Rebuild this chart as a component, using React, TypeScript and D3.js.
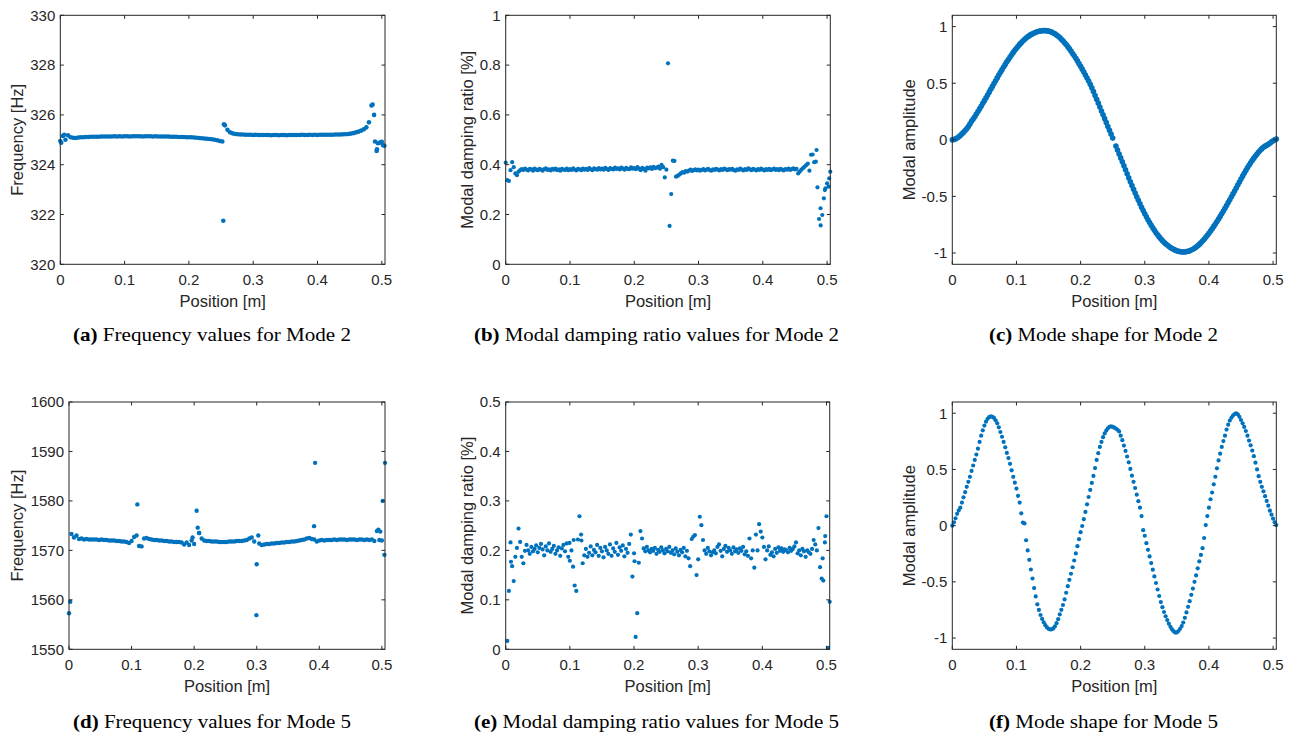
import React from 'react';
import * as d3 from 'd3';

const BLUE = '#0072BD';
const INK = '#262626';
const SANS = 'Liberation Sans, Arial, Helvetica, sans-serif';
const SERIF = 'Liberation Serif, Times New Roman, serif';

// Shared x axis
const X_MAX = 0.505;
const xTickValues = [0, 0.1, 0.2, 0.3, 0.4, 0.5];
const xTickLabels = ['0', '0.1', '0.2', '0.3', '0.4', '0.5'];
const xAxisTitle = 'Position [m]';

type Pt = [number, number];

// ---------- (a) Frequency values, Mode 2 (grid step 0.004 m) ----------
const freqMode2Step = 0.004;
const freqMode2 = [
  324.95, 325.15, 325.0, 325.18, 325.1, 325.08, 325.07, 325.09, 325.1, 325.1,
  325.11, 325.11, 325.12, 325.12, 325.12, 325.12, 325.13, 325.13, 325.13, 325.13,
  325.13, 325.14, 325.13, 325.14, 325.13, 325.14, 325.14, 325.13, 325.14, 325.14,
  325.14, 325.14, 325.13, 325.14, 325.14, 325.14, 325.13, 325.14, 325.13, 325.13,
  325.13, 325.13, 325.13, 325.12, 325.12, 325.12, 325.11, 325.11, 325.11, 325.1,
  325.1, 325.1, 325.09, 325.08, 325.07, 325.06, 325.05, 325.04, 325.03, 325.02,
  325.0, 324.98, 324.95, 324.93, 325.58, 325.4, 325.3, 325.26, 325.23, 325.22,
  325.21, 325.21, 325.2, 325.2, 325.2, 325.19, 325.2, 325.19, 325.19, 325.19,
  325.19, 325.19, 325.18, 325.19, 325.19, 325.18, 325.19, 325.19, 325.18, 325.19,
  325.19, 325.19, 325.19, 325.19, 325.2, 325.19, 325.19, 325.2, 325.19, 325.2,
  325.19, 325.2, 325.2, 325.2, 325.2, 325.2, 325.2, 325.21, 325.21, 325.21,
  325.22, 325.22, 325.23, 325.25, 325.27, 325.3, 325.33, 325.37, 325.42, 325.5,
  325.7, 326.38, 326.0, 324.55, 324.88, 324.92, 324.76,
];
const freqMode2Extra: Pt[] = [
  [0.0015, 324.88], [0.006, 325.2], [0.2535, 321.75], [0.2545, 325.62],
  [0.4858, 326.42], [0.4895, 324.93], [0.4925, 324.62], [0.494, 324.86],
  [0.4985, 324.9], [0.502, 324.78],
];
const freqMode2Ticks = [320, 322, 324, 326, 328, 330];
const freqMode2TickLabels = ['320', '322', '324', '326', '328', '330'];

// ---------- (b) Modal damping ratio, Mode 2 (grid step 0.0025 m) ----------
const dampMode2Step = 0.0025;
const dampMode2 = [
  0.408, 0.338, 0.335, 0.378, 0.41, 0.39, 0.365, 0.358, 0.372, 0.378,
  0.382, 0.379, 0.384, 0.38, 0.377, 0.383, 0.381, 0.376, 0.384, 0.38,
  0.378, 0.383, 0.38, 0.376, 0.382, 0.385, 0.379, 0.381, 0.377, 0.383,
  0.38, 0.384, 0.378, 0.381, 0.376, 0.383, 0.38, 0.379, 0.384, 0.378,
  0.382, 0.379, 0.385, 0.38, 0.377, 0.383, 0.381, 0.378, 0.384, 0.38,
  0.383, 0.379, 0.386, 0.381, 0.378, 0.385, 0.382, 0.38, 0.386, 0.381,
  0.384, 0.38, 0.387, 0.382, 0.379, 0.386, 0.383, 0.381, 0.388, 0.383,
  0.385, 0.381, 0.388, 0.384, 0.38, 0.387, 0.383, 0.382, 0.389, 0.384,
  0.386, 0.382, 0.39, 0.384, 0.378, 0.387, 0.383, 0.376, 0.388, 0.385,
  0.389, 0.383, 0.391, 0.386, 0.388, 0.392, 0.384, 0.399, 0.39, 0.349,
  0.38, 0.807, 0.154, 0.282, 0.416, 0.415, 0.352, 0.355, 0.36, 0.365,
  0.37, 0.368, 0.374, 0.372, 0.376, 0.38, 0.375, 0.378, 0.381, 0.377,
  0.38, 0.376, 0.379, 0.382, 0.377, 0.38, 0.383, 0.378, 0.376, 0.381,
  0.379, 0.383, 0.38, 0.377, 0.382, 0.379, 0.384, 0.381, 0.378, 0.382,
  0.38, 0.383, 0.378, 0.376, 0.381, 0.379, 0.384, 0.38, 0.377, 0.382,
  0.379, 0.385, 0.381, 0.378, 0.383, 0.38, 0.377, 0.382, 0.379, 0.384,
  0.38, 0.377, 0.382, 0.379, 0.383, 0.378, 0.381, 0.384, 0.379, 0.382,
  0.378, 0.383, 0.38, 0.377, 0.382, 0.38, 0.384, 0.379, 0.382, 0.385,
  0.381, 0.383, 0.365, 0.372, 0.38, 0.386, 0.392, 0.398, 0.404, 0.376,
  0.44, 0.441, 0.41, 0.412, 0.309, 0.182, 0.156, 0.198, 0.265, 0.305,
  0.325, 0.312, 0.372,
];
const dampMode2Extra: Pt[] = [
  [0.4836, 0.459], [0.4898, 0.225], [0.4966, 0.298], [0.5033, 0.345],
];
const dampMode2Ticks = [0, 0.2, 0.4, 0.6, 0.8, 1];
const dampMode2TickLabels = ['0', '0.2', '0.4', '0.6', '0.8', '1'];

// ---------- (c) Mode shape, Mode 2 (grid step 0.0025 m) ----------
const shapeMode2Step = 0.0025;
const shapeMode2: (number | null)[] = [
  0, 0.002, 0.008, 0.015, 0.026, 0.037, 0.052, 0.067, 0.082, 0.097,
  0.118, 0.14, 0.163, 0.184, 0.204, 0.227, 0.25, 0.273, 0.297, 0.322,
  0.346, 0.37, 0.395, 0.421, 0.446, 0.472, 0.497, 0.522, 0.547, 0.572,
  0.596, 0.62, 0.643, 0.666, 0.689, 0.71, 0.731, 0.752, 0.772, 0.791,
  0.809, 0.827, 0.843, 0.858, 0.873, 0.886, 0.899, 0.91, 0.92, 0.929,
  0.937, 0.944, 0.95, 0.955, 0.959, 0.962, 0.964, 0.965, 0.965, 0.963,
  0.96, 0.956, 0.951, 0.944, 0.936, 0.926, 0.915, 0.903, 0.889, 0.874,
  0.858, 0.841, 0.823, 0.804, 0.784, 0.763, 0.742, 0.72, 0.697, 0.673,
  0.649, 0.624, 0.599, 0.573, 0.546, 0.519, 0.491, 0.459, 0.426, 0.392,
  0.358, 0.324, 0.29, 0.255, 0.221, 0.187, 0.152, 0.118, 0.084, 0.05,
  0.015, null, -0.055, -0.09, -0.125, -0.16, -0.195, -0.23, -0.265, -0.3,
  -0.335, -0.37, -0.404, -0.438, -0.471, -0.503, -0.535, -0.566, -0.596, -0.625,
  -0.653, -0.68, -0.706, -0.731, -0.755, -0.778, -0.8, -0.821, -0.84, -0.858,
  -0.875, -0.891, -0.905, -0.918, -0.93, -0.941, -0.951, -0.96, -0.968, -0.975,
  -0.981, -0.985, -0.988, -0.99, -0.991, -0.99, -0.988, -0.985, -0.98, -0.974,
  -0.967, -0.958, -0.948, -0.937, -0.924, -0.91, -0.895, -0.879, -0.862, -0.844,
  -0.825, -0.806, -0.786, -0.765, -0.744, -0.722, -0.7, -0.677, -0.654, -0.63,
  -0.605, -0.58, -0.555, -0.53, -0.504, -0.478, -0.452, -0.426, -0.4, -0.373,
  -0.347, -0.321, -0.296, -0.272, -0.248, -0.225, -0.203, -0.182, -0.162, -0.143,
  -0.125, -0.108, -0.092, -0.078, -0.066, -0.056, -0.048, -0.04, -0.03, -0.018,
  -0.008, 0, 0.006,
];
const shapeTicks = [-1, -0.5, 0, 0.5, 1];
const shapeTickLabels = ['-1', '-0.5', '0', '0.5', '1'];

// ---------- (d) Frequency values, Mode 5 (grid step 0.004 m) ----------
const freqMode5Step = 0.004;
const freqMode5 = [
  1557.3, 1573.3, 1572.6, 1573.0, 1572.3, 1572.4, 1572.2, 1572.3, 1572.2, 1572.2,
  1572.2, 1572.2, 1572.1, 1572.2, 1572.1, 1572.1, 1572.0, 1572.0, 1572.0, 1571.9,
  1571.9, 1571.8, 1571.8, 1571.7, 1571.5, 1571.9, 1572.7, 1573.0, 1570.9, 1570.8,
  1572.4, 1572.5, 1572.3, 1572.2, 1572.1, 1572.1, 1572.0, 1572.0, 1571.9, 1571.9,
  1571.8, 1571.8, 1571.7, 1571.7, 1571.7, 1571.6, 1571.2, 1571.6, 1571.1, 1572.0,
  1571.3, 1578.0, 1573.5, 1572.4, 1572.0, 1571.9, 1571.9, 1571.8, 1571.8, 1571.8,
  1571.7, 1571.7, 1571.7, 1571.7, 1571.8, 1571.8, 1571.8, 1571.9, 1571.9, 1571.9,
  1572.0, 1572.1, 1572.4, 1572.6, 1571.8, 1567.2, 1571.4, 1571.1, 1571.2, 1571.3,
  1571.3, 1571.4, 1571.4, 1571.5, 1571.5, 1571.6, 1571.6, 1571.7, 1571.7, 1571.8,
  1571.8, 1571.9, 1572.0, 1572.1, 1572.2, 1572.4, 1572.5, 1572.3, 1572.2, 1571.8,
  1572.0, 1572.1, 1572.0, 1572.1, 1572.1, 1572.1, 1572.2, 1572.1, 1572.2, 1572.2,
  1572.2, 1572.1, 1572.2, 1572.2, 1572.2, 1572.1, 1572.2, 1572.2, 1572.1, 1572.2,
  1572.1, 1572.2, 1571.9, 1573.9, 1572.1, 1572.0, 1569.1,
];
const freqMode5Extra: Pt[] = [
  [0.002, 1559.6], [0.1092, 1579.3], [0.1975, 1572.6], [0.2057, 1574.6],
  [0.2078, 1573.5], [0.2995, 1556.9], [0.3025, 1573.0], [0.3916, 1574.9],
  [0.3933, 1587.7], [0.4944, 1574.2], [0.4975, 1573.8], [0.5013, 1580.0],
  [0.505, 1587.7],
];
const freqMode5Ticks = [1550, 1560, 1570, 1580, 1590, 1600];
const freqMode5TickLabels = ['1550', '1560', '1570', '1580', '1590', '1600'];

// ---------- (e) Modal damping ratio, Mode 5 (grid step 0.0025 m) ----------
const dampMode5Step = 0.0025;
const dampMode5: (number | null)[] = [
  null, 0.017, 0.118, 0.216, 0.168, 0.138, 0.187, 0.205, 0.244, 0.217,
  0.187, 0.174, 0.199, 0.211, 0.2, 0.193, 0.207, 0.198, 0.203, 0.21,
  0.196, 0.205, 0.213, 0.202, 0.19, 0.208, 0.2, 0.214, 0.197, 0.203,
  0.209, 0.193, 0.2, 0.206, 0.189, 0.204, 0.211, 0.198, 0.214, 0.187,
  0.179, 0.2, 0.167, 0.129, 0.118, 0.222, 0.269, 0.232, 0.174, 0.19,
  0.203, 0.187, 0.195, 0.208, 0.19, 0.201, 0.196, 0.211, 0.189, 0.205,
  0.198, 0.186, 0.207, 0.2, 0.193, 0.212, 0.189, 0.204, 0.197, 0.215,
  0.191, 0.206, 0.199, 0.21, 0.188, 0.203, 0.195, 0.213, 0.232, 0.147,
  0.194, 0.025, 0.073, 0.175, 0.239, 0.224, 0.204, 0.198, 0.207, 0.2,
  0.196, 0.203, 0.199, 0.205, 0.193, 0.201, 0.197, 0.206, 0.2, 0.194,
  0.203, 0.198, 0.207, 0.195, 0.2, 0.192, 0.204, 0.197, 0.19, 0.201,
  0.196, 0.205, 0.188, 0.199, 0.184, 0.168, 0.223, 0.228, 0.231, 0.15,
  0.182, 0.268, 0.251, 0.221, 0.2, 0.193, 0.205, 0.198, 0.19, 0.196,
  0.2, 0.194, 0.207, 0.212, 0.199, 0.188, 0.203, 0.209, 0.197, 0.205,
  0.2, 0.193, 0.206, 0.198, 0.202, 0.195, 0.204, 0.199, 0.207, 0.192,
  0.198, 0.189, 0.224, 0.184, 0.2, 0.165, 0.232, 0.2, 0.253, 0.238,
  0.226, 0.207, 0.182, 0.2, 0.208, 0.191, 0.196, 0.188, 0.203, 0.195,
  0.206, 0.199, 0.204, 0.197, 0.202, 0.2, 0.196, 0.205, 0.199, 0.203,
  0.208, 0.216, 0.194, 0.2, 0.19, 0.203, 0.198, 0.187, 0.2, 0.196,
  0.193, 0.203, 0.221, 0.212, 0.2, 0.245, 0.166, 0.143, 0.139, 0.216,
  0.269, 0.003, 0.096,
];
const dampMode5Extra: Pt[] = [
  [0.0082, 0.177], [0.0995, 0.215], [0.106, 0.221], [0.118, 0.22],
  [0.2008, 0.178], [0.494, 0.184], [0.498, 0.229],
];
const dampMode5Ticks = [0, 0.1, 0.2, 0.3, 0.4, 0.5];
const dampMode5TickLabels = ['0', '0.1', '0.2', '0.3', '0.4', '0.5'];

// ---------- (f) Mode shape, Mode 5 (grid step 0.0025 m) ----------
const shapeMode5Step = 0.0025;
const shapeMode5 = [
  0, 0.03, 0.065, 0.105, 0.135, 0.16, 0.205, 0.252, 0.298, 0.345,
  0.39, 0.434, 0.487, 0.535, 0.585, 0.632, 0.685, 0.745, 0.8, 0.848,
  0.89, 0.925, 0.95, 0.966, 0.972, 0.968, 0.958, 0.937, 0.91, 0.875,
  0.833, 0.791, 0.745, 0.697, 0.647, 0.601, 0.55, 0.492, 0.434, 0.382,
  0.33, 0.265, 0.205, 0.11, 0.027, 0.02, -0.13, -0.22, -0.304, -0.39,
  -0.47, -0.555, -0.63, -0.7, -0.75, -0.795, -0.83, -0.86, -0.885, -0.905,
  -0.918, -0.923, -0.922, -0.914, -0.895, -0.868, -0.832, -0.79, -0.749, -0.706,
  -0.656, -0.597, -0.538, -0.482, -0.428, -0.37, -0.31, -0.247, -0.183, -0.12,
  -0.058, -0.003, 0.058, 0.122, 0.19, 0.255, 0.318, 0.38, 0.442, 0.512,
  0.585, 0.645, 0.7, 0.745, 0.787, 0.82, 0.846, 0.866, 0.88, 0.883,
  0.878, 0.872, 0.864, 0.853, 0.838, 0.8, 0.76, 0.712, 0.665, 0.615,
  0.563, 0.505, 0.445, 0.39, 0.335, 0.276, 0.218, 0.16, 0.085, -0.04,
  -0.09, -0.156, -0.215, -0.274, -0.333, -0.392, -0.452, -0.51, -0.568, -0.626,
  -0.68, -0.725, -0.768, -0.806, -0.84, -0.872, -0.9, -0.922, -0.94, -0.951,
  -0.95, -0.937, -0.918, -0.893, -0.862, -0.82, -0.772, -0.722, -0.672, -0.615,
  -0.56, -0.5, -0.443, -0.38, -0.318, -0.26, -0.2, -0.11, 0.005, 0.085,
  0.16, 0.235, 0.295, 0.368, 0.435, 0.51, 0.58, 0.64, 0.7, 0.752,
  0.8, 0.855, 0.898, 0.935, 0.96, 0.979, 0.993, 1, 0.99, 0.968,
  0.94, 0.91, 0.878, 0.842, 0.8, 0.757, 0.715, 0.668, 0.618, 0.56,
  0.5, 0.44, 0.39, 0.345, 0.305, 0.262, 0.22, 0.178, 0.133, 0.098,
  0.062, 0.03, 0.005,
];

interface PanelProps {
  left: number; top: number; right: number; bottom: number;
  yDomain: [number, number];
  yTicks: number[]; yTickLabels: string[];
  yTitle: string; yTitleX: number;
  values: (number | null)[]; step: number; extra?: Pt[];
  r: number;
  letter: string; caption: string; captionX: number; captionY: number; captionW: number;
}

function Panel(p: PanelProps) {
  const x = d3.scaleLinear().domain([0, X_MAX]).range([p.left, p.right]);
  const y = d3.scaleLinear().domain(p.yDomain).range([p.bottom, p.top]);
  const pts: Pt[] = [];
  p.values.forEach((v, i) => { if (v !== null) pts.push([i * p.step, v]); });
  (p.extra || []).forEach((e) => pts.push(e));
  const tl = 3.5;
  const midY = (p.top + p.bottom) / 2;
  return (
    <g>
      {pts.map((d, i) => (
        <circle key={i} cx={x(d[0])} cy={y(d[1])} r={p.r} fill={BLUE} />
      ))}
      <rect x={p.left} y={p.top} width={p.right - p.left} height={p.bottom - p.top}
        fill="none" stroke={INK} strokeWidth={1} />
      {xTickValues.map((t, i) => (
        <g key={'x' + i}>
          <line x1={x(t)} x2={x(t)} y1={p.bottom} y2={p.bottom - tl} stroke={INK} />
          <line x1={x(t)} x2={x(t)} y1={p.top} y2={p.top + tl} stroke={INK} />
          <text x={x(t)} y={p.bottom + 21} textAnchor="middle" fontSize={15}
            fontFamily={SANS} fill={INK}>{xTickLabels[i]}</text>
        </g>
      ))}
      {p.yTicks.map((t, i) => (
        <g key={'y' + i}>
          <line x1={p.left} x2={p.left + tl} y1={y(t)} y2={y(t)} stroke={INK} />
          <line x1={p.right} x2={p.right - tl} y1={y(t)} y2={y(t)} stroke={INK} />
          <text x={p.left - 5} y={y(t) + 5.3} textAnchor="end" fontSize={15}
            fontFamily={SANS} fill={INK}>{p.yTickLabels[i]}</text>
        </g>
      ))}
      <text x={(p.left + p.right) / 2} y={p.bottom + 43} textAnchor="middle" fontSize={16.5}
        fontFamily={SANS} fill={INK}>{xAxisTitle}</text>
      <text transform={`translate(${p.yTitleX},${midY}) rotate(-90)`} dy={5.5} textAnchor="middle"
        fontSize={16.5} fontFamily={SANS} fill={INK}>{p.yTitle}</text>
      <text x={p.captionX} y={p.captionY} textAnchor="middle" fontSize={19.5}
        fontFamily={SERIF} fill="#000" textLength={p.captionW} lengthAdjust="spacingAndGlyphs">
        <tspan fontWeight="bold">{p.letter}</tspan> {p.caption}
      </text>
    </g>
  );
}

export default function App() {
  return (
    <svg width={1291} height={735} viewBox="0 0 1291 735"
      style={{ position: 'absolute', left: 0, top: 0, background: '#fff' }}>
      <rect x={0} y={0} width={1291} height={735} fill="#fff" />
      <Panel left={60.3} top={15.3} right={385} bottom={264.3} yDomain={[320, 330]}
        yTicks={freqMode2Ticks} yTickLabels={freqMode2TickLabels}
        yTitle="Frequency [Hz]" yTitleX={17.3}
        values={freqMode2} step={freqMode2Step} extra={freqMode2Extra} r={2.3}
        letter="(a)" caption="Frequency values for Mode 2" captionX={212} captionY={341.3} captionW={278} />
      <Panel left={505.7} top={15.3} right={830.3} bottom={264.3} yDomain={[0, 1]}
        yTicks={dampMode2Ticks} yTickLabels={dampMode2TickLabels}
        yTitle="Modal damping ratio [%]" yTitleX={467.3}
        values={dampMode2} step={dampMode2Step} extra={dampMode2Extra} r={2.1}
        letter="(b)" caption="Modal damping ratio values for Mode 2" captionX={656.5} captionY={341.3} captionW={365} />
      <Panel left={952.3} top={15.3} right={1276.3} bottom={264.3} yDomain={[-1.1, 1.1]}
        yTicks={shapeTicks} yTickLabels={shapeTickLabels}
        yTitle="Modal amplitude" yTitleX={909}
        values={shapeMode2} step={shapeMode2Step} r={2.8}
        letter="(c)" caption="Mode shape for Mode 2" captionX={1103.5} captionY={341.3} captionW={229} />
      <Panel left={69} top={402} right={385} bottom={649.3} yDomain={[1550, 1600]}
        yTicks={freqMode5Ticks} yTickLabels={freqMode5TickLabels}
        yTitle="Frequency [Hz]" yTitleX={17.3}
        values={freqMode5} step={freqMode5Step} extra={freqMode5Extra} r={2.2}
        letter="(d)" caption="Frequency values for Mode 5" captionX={212} captionY={728.3} captionW={278} />
      <Panel left={505.7} top={402} right={829.7} bottom={649.3} yDomain={[0, 0.5]}
        yTicks={dampMode5Ticks} yTickLabels={dampMode5TickLabels}
        yTitle="Modal damping ratio [%]" yTitleX={467.3}
        values={dampMode5} step={dampMode5Step} extra={dampMode5Extra} r={2.1}
        letter="(e)" caption="Modal damping ratio values for Mode 5" captionX={656.5} captionY={728.3} captionW={365} />
      <Panel left={952.3} top={402} right={1276.3} bottom={649.3} yDomain={[-1.1, 1.1]}
        yTicks={shapeTicks} yTickLabels={shapeTickLabels}
        yTitle="Modal amplitude" yTitleX={909}
        values={shapeMode5} step={shapeMode5Step} r={2.1}
        letter="(f)" caption="Mode shape for Mode 5" captionX={1103.5} captionY={728.3} captionW={229} />
    </svg>
  );
}
